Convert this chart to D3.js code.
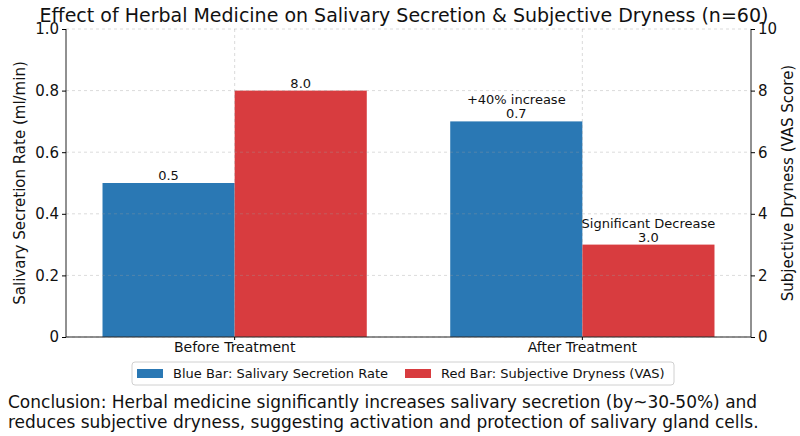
<!DOCTYPE html>
<html>
<head>
<meta charset="utf-8">
<script src="https://cdn.jsdelivr.net/npm/d3@7"></script>
<style>
  body { margin: 0; background: #fff; }
  svg { font-family: "DejaVu Sans", sans-serif; }
  .grid line { stroke: #999; stroke-opacity: 0.45; stroke-dasharray: 3,3; stroke-width: 0.8; }
</style>
</head>
<body>
<svg width="800" height="436"></svg>
<script>
// chart data
const categories = ["Before Treatment", "After Treatment"];
const secretion = [0.5, 0.7];
const dryness = [8.0, 3.0];
const secretionNotes = ["", "+40% increase"];
const drynessNotes = ["", "Significant Decrease"];
const leftTicks = [0, 0.2, 0.4, 0.6, 0.8, 1.0];
const rightTicks = [0, 2, 4, 6, 8, 10];
const legendLabels = ["Blue Bar: Salivary Secretion Rate", "Red Bar: Subjective Dryness (VAS)"];
const conclusion = [
	"Conclusion: Herbal medicine significantly increases salivary secretion (by~30-50%) and",
	"reduces subjective dryness, suggesting activation and protection of salivary gland cells."
];

const blue = "#2a78b4";
const red = "#d83c3f";

const svg = d3.select("svg");
const plotLeft = 66, plotRight = 751, plotTop = 29, plotBottom = 337;

const x = d3.scaleBand()
	.domain(categories)
	.range([plotLeft, plotRight])
	.paddingInner(0.24)
	.paddingOuter(0.105);
const sub = d3.scaleBand().domain([0, 1]).range([0, x.bandwidth()]);
const yL = d3.scaleLinear().domain([0, 1]).range([plotBottom, plotTop]);
const yR = d3.scaleLinear().domain([0, 10]).range([plotBottom, plotTop]);

// bars
const rows = categories.map((c, i) => ({ cat: c, s: secretion[i], d: dryness[i], sn: secretionNotes[i], dn: drynessNotes[i] }));

svg.append("g").selectAll("rect").data(rows).join("rect")
	.attr("x", d => x(d.cat) + sub(0))
	.attr("width", sub.bandwidth())
	.attr("y", d => yL(d.s))
	.attr("height", d => plotBottom - yL(d.s))
	.attr("fill", blue);

svg.append("g").selectAll("rect").data(rows).join("rect")
	.attr("x", d => x(d.cat) + sub(1))
	.attr("width", sub.bandwidth())
	.attr("y", d => yR(d.d))
	.attr("height", d => plotBottom - yR(d.d))
	.attr("fill", red);

// grid, drawn over the bars faintly
const grid = svg.append("g").attr("class", "grid");
grid.selectAll(".h").data(leftTicks).join("line")
	.attr("x1", plotLeft).attr("x2", plotRight)
	.attr("y1", d => yL(d)).attr("y2", d => yL(d));
grid.selectAll(".v").data(categories).join("line")
	.attr("x1", d => x(d) + x.bandwidth() / 2).attr("x2", d => x(d) + x.bandwidth() / 2)
	.attr("y1", plotTop).attr("y2", plotBottom);

// value labels
const lab = svg.append("g").attr("font-size", 13).attr("fill", "#111").attr("text-anchor", "middle");
rows.forEach(d => {
	const bx = x(d.cat) + sub(0) + sub.bandwidth() / 2;
	const rx = x(d.cat) + sub(1) + sub.bandwidth() / 2;
	lab.append("text").attr("x", bx).attr("y", yL(d.s) - 3).text(d.s.toFixed(1));
	if (d.sn) lab.append("text").attr("x", bx).attr("y", yL(d.s) - 17).text(d.sn);
	lab.append("text").attr("x", rx).attr("y", yR(d.d) - 3).text(d.d.toFixed(1));
	if (d.dn) lab.append("text").attr("x", rx).attr("y", yR(d.d) - 17).text(d.dn);
});

// axes
const axL = svg.append("g").attr("transform", `translate(${plotLeft},0)`)
	.call(d3.axisLeft(yL).tickValues(leftTicks).tickSize(4).tickFormat(d => d === 0 ? "0" : d3.format(".1f")(d)));
const axR = svg.append("g").attr("transform", `translate(${plotRight},0)`)
	.call(d3.axisRight(yR).tickValues(rightTicks).tickSize(4).tickFormat(d3.format("d")));
const axB = svg.append("g").attr("transform", `translate(0,${plotBottom})`)
	.call(d3.axisBottom(x).tickSize(3).tickPadding(2));

[axL, axR, axB].forEach(a => {
	a.selectAll("text").attr("font-size", 14).attr("font-family", "DejaVu Sans").attr("fill", "#111");
	a.select(".domain").attr("stroke", "#222");
});
axL.selectAll("text").attr("font-size", 15);
axR.selectAll("text").attr("font-size", 15);
axB.select(".domain").attr("d", `M${plotLeft},0H${plotRight}`);
axL.select(".domain").attr("d", `M0,${plotBottom}V${plotTop}`);
axR.select(".domain").attr("d", `M0,${plotBottom}V${plotTop}`);

// axis titles
svg.append("text")
	.attr("transform", `translate(25,${(plotTop + plotBottom) / 2}) rotate(-90)`)
	.attr("text-anchor", "middle").attr("font-size", 15).attr("fill", "#111")
	.text("Salivary Secretion Rate (ml/min)");
svg.append("text")
	.attr("transform", `translate(793,${(plotTop + plotBottom) / 2}) rotate(-90)`)
	.attr("text-anchor", "middle").attr("font-size", 15).attr("fill", "#111")
	.text("Subjective Dryness (VAS Score)");

// title
svg.append("text")
	.attr("x", 404).attr("y", 22).attr("text-anchor", "middle")
	.attr("font-size", 19).attr("fill", "#111")
	.text("Effect of Herbal Medicine on Salivary Secretion & Subjective Dryness (n=60)");

// legend
const leg = svg.append("g");
leg.append("rect").attr("x", 132).attr("y", 362).attr("width", 542).attr("height", 23)
	.attr("rx", 3).attr("fill", "#fff").attr("stroke", "#d0d0d0");
const legX = [137, 405];
[blue, red].forEach((c, i) => {
	leg.append("rect").attr("x", legX[i]).attr("y", 369).attr("width", 26).attr("height", 9).attr("fill", c);
	leg.append("text").attr("x", legX[i] + 36).attr("y", 378).attr("font-size", 13).attr("fill", "#111")
		.text(legendLabels[i]);
});

// conclusion
svg.append("g").selectAll("text").data(conclusion).join("text")
	.attr("x", 8).attr("y", (d, i) => 408 + i * 20)
	.attr("font-size", 17).attr("fill", "#111")
	.text(d => d);
</script>
</body>
</html>
